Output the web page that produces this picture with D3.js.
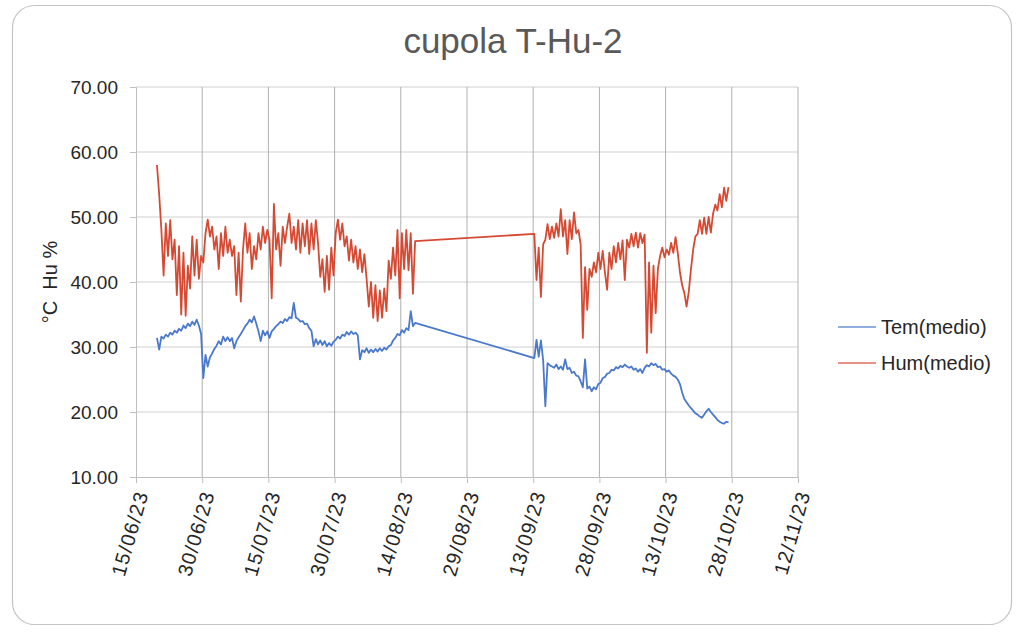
<!DOCTYPE html>
<html><head><meta charset="utf-8">
<script src="https://cdn.jsdelivr.net/npm/d3@7"></script>
<style>body{margin:0;background:#fff;} svg{display:block;font-family:"Liberation Sans",Arial,sans-serif;}</style>
</head><body><svg id="c" width="1024" height="637"></svg>
<script>
// ---- data ----
const startDate = Date.UTC(2023, 5, 15);
const stepDays = 0.5;            // two readings a day (day/night)
const seg1Start = 4.75;          // days after 15/06/23
const seg2Start = 90.25;
const humSeg1 = [
 58.0,53.5,48.0,41.0,49.0,44.0,49.5,43.5,46.5,38.0,
 45.5,35.0,44.5,34.8,42.5,39.0,47.0,41.0,46.5,40.5,
 44.0,43.0,47.5,49.6,47.0,48.5,45.0,47.0,42.0,47.5,
 44.0,48.5,44.5,46.5,44.0,45.5,38.0,44.5,37.0,45.0,
 49.0,44.5,47.5,42.0,45.5,43.5,47.5,45.0,48.5,46.0,
 48.0,46.5,37.5,52.0,45.0,47.5,42.5,48.5,46.0,48.5,
 50.5,46.0,48.5,45.0,49.5,44.5,49.0,45.5,49.5,44.3,
 49.0,45.0,49.5,46.0,40.8,43.5,38.5,44.0,38.8,45.3,
 41.0,47.5,49.6,46.5,49.0,45.5,47.0,43.3,46.5,43.0,
 45.5,42.0,45.0,41.5,44.3,40.5,36.2,40.0,34.5,39.5,
 34.0,38.7,34.5,39.0,35.5,43.3,40.5,45.3,41.0,48.0,
 37.5,47.5,42.0,48.0,41.8,47.5,38.2,46.3
];
const humSeg2 = [
 47.4,40.3,45.3,37.7,45.8,46.5,48.9,46.6,48.5,46.8,
 49.0,47.0,51.2,47.0,49.5,44.3,49.5,46.6,50.7,47.5,
 48.0,45.8,31.4,42.3,35.7,42.0,40.8,43.0,41.5,44.5,
 42.0,44.8,41.5,38.8,44.5,42.0,45.5,43.0,46.0,43.5,
 46.4,40.3,46.5,45.3,47.4,45.5,47.6,45.3,47.5,46.0,
 47.3,29.1,43.0,32.2,42.5,35.2,42.0,44.0,45.3,43.8,
 45.0,44.2,46.0,44.5,46.9,44.5,41.5,39.5,38.3,36.2,
 38.5,42.0,45.0,47.0,47.4,49.5,47.4,49.9,47.4,50.0,
 47.6,50.5,51.9,51.0,53.5,51.5,54.5,52.5,54.6
];
const temSeg1 = [
 31.4,29.6,31.6,31.3,31.9,31.6,32.2,31.9,32.5,32.2,
 32.8,32.5,33.3,32.9,33.6,33.2,33.9,33.4,34.2,33.3,
 32.0,25.2,28.8,27.0,28.4,29.0,29.7,30.2,30.9,30.4,
 31.6,30.9,31.5,30.9,31.4,29.8,30.9,31.5,32.0,32.6,
 33.2,33.6,34.2,33.8,34.7,33.6,32.4,30.9,32.5,31.8,
 32.4,31.4,32.4,32.8,33.2,33.5,33.9,33.7,34.3,34.0,
 34.6,34.4,36.8,34.5,34.3,33.9,34.0,33.5,33.6,32.9,
 32.5,30.1,31.2,30.4,31.0,30.3,30.9,30.1,30.6,30.2,
 30.8,31.1,31.6,31.3,31.9,31.7,32.3,31.9,32.4,32.0,
 32.2,31.8,28.1,29.5,29.2,29.8,29.1,29.6,29.2,29.7,
 29.3,29.8,29.4,29.9,29.6,30.1,30.3,31.0,31.4,32.0,
 31.8,32.6,32.2,32.9,32.6,35.5,33.2,33.7
];
const temSeg2 = [
 28.3,31.1,28.5,31.0,28.0,20.9,27.5,27.2,27.0,26.8,
 27.3,26.6,27.0,26.5,28.1,26.6,26.8,26.0,26.2,25.6,
 25.5,24.7,23.8,28.1,23.6,23.9,23.2,23.8,23.5,24.3,
 24.5,25.2,25.4,25.9,26.0,26.5,26.4,26.9,26.7,27.1,
 26.9,27.3,27.0,26.8,27.0,26.5,26.7,26.2,26.6,26.0,
 26.8,27.2,27.0,27.5,27.2,27.4,26.9,27.0,26.5,26.6,
 26.2,26.4,25.9,25.6,25.4,25.0,24.3,23.0,22.0,21.5,
 21.0,20.6,20.2,19.8,19.6,19.3,19.1,19.6,20.1,20.5,
 20.0,19.6,19.2,18.8,18.5,18.3,18.2,18.5,18.4
];
const yTicks = [10, 20, 30, 40, 50, 60, 70];
const xTickDays = [0, 15, 30, 45, 60, 75, 90, 105, 120, 135, 150];
const seriesNames = ["Tem(medio)", "Hum(medio)"];
const seriesColors = ["#4a78cc", "#d64a33"];
const titleText = "cupola T-Hu-2";
const yTitle = "°C  Hu %";

// ---- build ----
const dayToDate = d => new Date(startDate + d * 864e5);
function build(seg1, seg2) {
  return seg1.map((v, i) => ({t: dayToDate(seg1Start + i * stepDays), v}))
    .concat(seg2.map((v, i) => ({t: dayToDate(seg2Start + i * stepDays), v})));
}
const temData = build(temSeg1, temSeg2);
const humData = build(humSeg1, humSeg2);

const L = 136, R = 798, T = 87, B = 477;
const svg = d3.select("#c");
const x = d3.scaleUtc().domain([dayToDate(0), dayToDate(150)]).range([L, R]);
const y = d3.scaleLinear().domain([10, 70]).range([B, T]);
const fmt = d3.utcFormat("%d/%m/%y");

svg.append("rect").attr("x", 12.5).attr("y", 5.5).attr("width", 999).attr("height", 619)
  .attr("rx", 22).attr("fill", "#fff").attr("stroke", "#c4c4c4").attr("stroke-width", 1.2);

svg.append("text").attr("x", 513).attr("y", 53).attr("text-anchor", "middle")
  .attr("font-size", 35).attr("fill", "#595959").text(titleText);

// grid
const g = svg.append("g");
g.selectAll(".hg").data(yTicks.filter(v => v > 10)).join("line")
  .attr("x1", L).attr("x2", R).attr("y1", d => y(d)).attr("y2", d => y(d))
  .attr("stroke", "#d0d0d0").attr("stroke-width", 1);
g.selectAll(".vg").data(xTickDays.filter(d => d > 0)).join("line")
  .attr("x1", d => x(dayToDate(d))).attr("x2", d => x(dayToDate(d)))
  .attr("y1", T).attr("y2", B).attr("stroke", "#b0b0b0").attr("stroke-width", 1);

// axes
const yAxis = d3.axisLeft(y).tickValues(yTicks).tickSize(6).tickPadding(12).tickFormat(d3.format(".2f"));
const ya = svg.append("g").attr("transform", `translate(${L},0)`).call(yAxis);
ya.select(".domain").attr("stroke", "#bfbfbf");
ya.selectAll(".tick line").attr("stroke", "#bfbfbf");
ya.selectAll("text").attr("font-size", 19).attr("fill", "#262626").attr("font-family", "Liberation Sans, Arial, sans-serif");

const xAxis = d3.axisBottom(x).tickValues(xTickDays.map(dayToDate)).tickSize(6).tickFormat(fmt);
const xa = svg.append("g").attr("transform", `translate(0,${B})`).call(xAxis);
xa.select(".domain").attr("stroke", "#bfbfbf");
xa.selectAll(".tick line").attr("stroke", "#bfbfbf");
xa.selectAll("text").attr("font-size", 20).attr("fill", "#262626").attr("font-family", "Liberation Sans, Arial, sans-serif")
  .attr("text-anchor", "end").attr("dy", null).attr("y", 0).attr("letter-spacing", 1.2)
  .attr("transform", "translate(7,15) rotate(-74)").attr("dominant-baseline", "middle");

svg.append("text").attr("transform", "translate(57,282) rotate(-90)").attr("text-anchor", "middle")
  .attr("font-size", 20).attr("fill", "#262626").attr("xml:space", "preserve").style("white-space", "pre").text(yTitle);

// lines
const line = d3.line().x(d => x(d.t)).y(d => y(d.v));
[temData, humData].forEach((data, i) => {
  svg.append("path").datum(data).attr("d", line).attr("fill", "none")
    .attr("stroke", seriesColors[i]).attr("stroke-width", 1.8).attr("stroke-linejoin", "round");
});

// legend
seriesNames.forEach((n, i) => {
  const ly = 327 + i * 36;
  svg.append("line").attr("x1", 838).attr("x2", 876).attr("y1", ly).attr("y2", ly)
    .attr("stroke", seriesColors[i]).attr("stroke-width", 1.6).attr("opacity", 0.8);
  svg.append("text").attr("x", 881).attr("y", ly).attr("dy", "0.35em")
    .attr("font-size", 20).attr("fill", "#262626").text(n);
});
</script></body></html>
